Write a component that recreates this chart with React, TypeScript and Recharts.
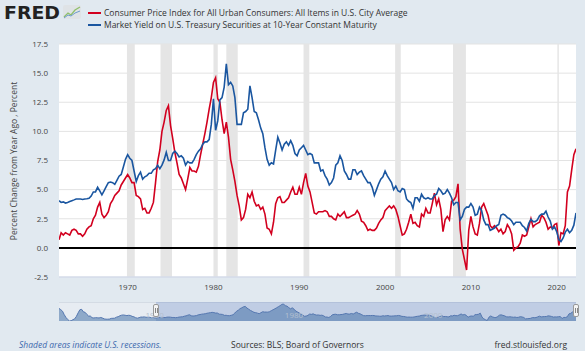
import React from 'react';
import { LineChart, Line, XAxis, YAxis, CartesianGrid, ReferenceArea, ReferenceLine, AreaChart, Area } from 'recharts';

// quarterly observations
const START_YEAR = 1962;
const NAV_START_YEAR = 1948;

// CPI, % change from year ago, 1948-1961 (only shown in the navigator)
const cpiEarly = [
  10.2, 9.0, 7.5, 4.0, 1.2, -0.8, -2.3, -2.0, -1.0, -0.2, 2.3, 5.8,
  8.9, 9.3, 6.8, 6.3, 4.3, 2.6, 2.6, 1.0, 0.7, 1.0, 0.9, 0.7,
  1.2, 0.6, -0.2, -0.5, -0.5, -0.4, 0.3, 0.4, 0.5, 1.5, 2.0, 2.9,
  3.5, 3.7, 3.4, 3.1, 3.4, 3.2, 2.3, 1.9, 1.0, 0.5, 1.0, 1.6,
  1.6, 1.8, 1.4, 1.4, 1.4, 1.0, 1.2, 0.7,
];

// CPI, % change from year ago, 1962 Q1 - 2022 Q2
const cpiYoY = [
  0.7, 1.3, 1.1, 1.3, 1.2, 1.1, 1.5, 1.6, 1.5, 1.2, 1.2, 1.0,
  1.2, 1.6, 1.8, 1.9, 2.5, 2.8, 3.5, 3.9, 2.9, 2.6, 2.8, 3.1,
  3.8, 4.1, 4.5, 4.7, 4.9, 5.4, 5.7, 6.0, 6.3, 6.0, 5.6, 5.6,
  4.5, 4.4, 4.2, 3.3, 3.4, 3.0, 3.0, 3.4, 3.9, 5.6, 7.4, 8.4,
  10.0, 10.8, 11.8, 12.2, 10.5, 9.4, 8.2, 7.3, 6.3, 6.0, 5.5, 5.0,
  5.9, 6.9, 6.6, 6.6, 6.5, 7.0, 8.0, 8.9, 9.8, 10.8, 11.9, 12.9,
  14.2, 14.6, 12.8, 12.5, 11.0, 9.8, 10.8, 9.5, 7.6, 6.7, 5.7, 4.5,
  3.6, 2.4, 2.6, 3.3, 4.6, 4.3, 4.8, 4.0, 3.6, 3.7, 3.3, 3.5,
  2.9, 1.7, 1.6, 1.2, 2.2, 3.8, 4.3, 4.4, 3.9, 3.9, 4.1, 4.3,
  4.8, 5.2, 4.6, 4.6, 5.2, 4.6, 5.6, 6.4, 5.3, 4.8, 3.9, 3.0,
  2.9, 3.1, 3.1, 3.1, 3.2, 3.1, 2.7, 2.7, 2.5, 2.4, 2.9, 2.7,
  2.9, 3.1, 2.6, 2.6, 2.7, 2.8, 2.9, 3.2, 2.9, 2.3, 2.2, 1.9,
  1.5, 1.6, 1.5, 1.5, 1.7, 2.1, 2.4, 2.6, 3.2, 3.4, 3.6, 3.4,
  3.6, 3.3, 2.7, 1.9, 1.1, 1.2, 1.6, 2.2, 2.9, 2.1, 2.2, 1.9,
  1.8, 2.9, 2.7, 3.4, 3.0, 3.0, 3.8, 4.7, 3.7, 4.2, 3.3, 1.4,
  2.4, 2.7, 2.4, 4.0, 4.1, 4.4, 5.5, 1.6, -0.1, -1.0, -1.9, 1.5,
  2.7, 1.8, 1.2, 1.1, 2.1, 3.5, 3.8, 3.3, 2.8, 1.9, 1.7, 1.9,
  1.7, 1.4, 1.6, 1.2, 1.4, 2.0, 1.7, 1.2, -0.2, 0.0, 0.1, 0.4,
  1.1, 1.0, 1.1, 1.8, 2.5, 1.8, 2.0, 2.1, 2.2, 2.8, 2.6, 2.2,
  1.6, 1.8, 1.7, 2.0, 2.1, 0.2, 1.3, 1.2, 1.9, 4.8, 5.3, 6.7,
  8.0, 8.5,
];

// 10-year Treasury constant maturity yield, percent, 1962 Q1 - 2022 Q2
const tenYearYield = [
  4.05, 3.9, 3.95, 3.85, 3.9, 3.98, 4.05, 4.12, 4.2, 4.2, 4.19, 4.15,
  4.2, 4.21, 4.25, 4.45, 4.8, 4.8, 5.2, 4.9, 4.55, 4.9, 5.25, 5.6,
  5.65, 5.6, 5.45, 5.8, 6.15, 6.3, 6.95, 7.6, 8.0, 7.7, 7.5, 6.6,
  5.7, 6.2, 6.5, 5.9, 6.1, 6.2, 6.4, 6.4, 6.7, 6.8, 7.1, 6.8,
  7.1, 7.55, 8.2, 7.5, 7.5, 8.1, 8.3, 8.1, 7.8, 7.9, 7.7, 7.1,
  7.4, 7.3, 7.3, 7.6, 8.0, 8.3, 8.5, 8.9, 9.1, 9.1, 9.3, 10.6,
  12.8, 10.1, 10.9, 12.7, 12.9, 13.8, 15.8, 14.0, 14.2, 13.9, 12.9, 10.6,
  10.6, 10.6, 11.6, 11.7, 11.9, 13.9, 12.9, 11.7, 11.6, 11.0, 10.3, 9.8,
  8.6, 7.6, 7.1, 7.3, 7.2, 8.4, 9.5, 9.0, 8.4, 8.9, 9.1, 8.8,
  9.2, 8.8, 8.1, 7.9, 8.4, 8.6, 8.8, 8.4, 8.0, 8.1, 8.0, 7.3,
  7.3, 7.3, 6.6, 6.7, 6.2, 5.9, 5.4, 5.6, 6.0, 7.1, 7.3, 7.9,
  7.5, 6.6, 6.3, 5.9, 5.9, 6.7, 6.7, 6.3, 6.5, 6.6, 6.2, 5.9,
  5.6, 5.6, 5.2, 4.5, 5.0, 5.5, 5.9, 6.1, 6.6, 6.2, 5.9, 5.6,
  5.0, 5.3, 4.9, 4.8, 5.1, 5.0, 4.2, 4.0, 3.9, 3.4, 4.3, 4.3,
  4.0, 4.6, 4.3, 4.2, 4.3, 4.2, 4.2, 4.5, 4.6, 5.1, 4.9, 4.6,
  4.7, 5.0, 4.7, 4.3, 3.7, 3.9, 3.9, 2.4, 2.7, 3.3, 3.5, 3.5,
  3.8, 3.5, 2.8, 2.9, 3.5, 3.2, 2.4, 2.0, 2.0, 1.5, 1.6, 1.7,
  1.9, 2.0, 2.8, 2.9, 2.8, 2.6, 2.5, 2.3, 2.0, 2.2, 2.2, 2.2,
  1.9, 1.75, 1.45, 2.1, 2.45, 2.25, 2.25, 2.4, 2.75, 2.9, 2.9, 3.15,
  2.65, 2.3, 1.6, 1.8, 1.4, 0.7, 0.55, 0.85, 1.35, 1.6, 1.3, 1.5,
  1.95, 3.0,
];

// NBER recessions, in decimal years
const recessions = [
  { start: 1969.92, end: 1970.83 },
  { start: 1973.83, end: 1975.17 },
  { start: 1980.0, end: 1980.5 },
  { start: 1981.5, end: 1982.83 },
  { start: 1990.5, end: 1991.17 },
  { start: 2001.17, end: 2001.83 },
  { start: 2007.92, end: 2009.42 },
  { start: 2020.08, end: 2020.25 },
];

const yTicks = [-2.5, 0, 2.5, 5, 7.5, 10, 12.5, 15, 17.5];
const xTicks = [1970, 1980, 1990, 2000, 2010, 2020];
const navTicks = [1960, 1980, 2000];

const seriesNames = [
  'Consumer Price Index for All Urban Consumers: All Items in U.S. City Average',
  'Market Yield on U.S. Treasury Securities at 10-Year Constant Maturity',
];

const RED = '#d2001f';
const BLUE = '#1a56a0';
const FONT = '"Open Sans", sans-serif';

const mainData = cpiYoY.map((v, i) => ({
  date: START_YEAR + i * 0.25,
  cpi: v,
  gs10: tenYearYield[i],
}));

const navData = [...cpiEarly, ...cpiYoY].map((v, i) => ({
  date: NAV_START_YEAR + i * 0.25,
  cpi: v,
}));

const END_DATE = mainData[mainData.length - 1].date;

const NavTick = ({ x, payload }: any) => (
  <text x={x + 3} y={16} fontSize={8} fill="#b4c0d0" fontFamily={FONT}>
    {payload.value}
  </text>
);

const Handle = ({ left }: { left: number }) => (
  <div
    style={{
      position: 'absolute',
      left: left - 3,
      top: 304,
      width: 6,
      height: 13,
      background: '#f4f4f4',
      border: '1px solid #999',
      borderRadius: 2,
      boxSizing: 'border-box',
    }}
  >
    <div style={{ position: 'absolute', left: 1, top: 3, width: 1, height: 5, background: '#888' }} />
    <div style={{ position: 'absolute', left: 3, top: 3, width: 1, height: 5, background: '#888' }} />
  </div>
);

const App: React.FC = () => {
  return (
    <div
      style={{
        position: 'absolute',
        left: 0,
        top: 0,
        width: 585,
        height: 351,
        background: '#e1e9f0',
        fontFamily: FONT,
        overflow: 'hidden',
      }}
    >
      {/* header: logo + legend */}
      <svg style={{ position: 'absolute', left: 0, top: 0 }} width={90} height={24}>
        <text x={4} y={19} fontSize={18} fontWeight={800} fill="#222" fontFamily="'DejaVu Sans', sans-serif"
          textLength={56} lengthAdjust="spacingAndGlyphs">
          FRED
        </text>
        <rect x={63} y={5} width={18} height={14} rx={2} fill="#dfe3e6" />
        <polyline points="64,17 68,13 71,15 75,10 80,7" fill="none" stroke="#8fbf6a" strokeWidth={1.3} />
        <polyline points="64,18 68,15 71,16 75,13 80,11" fill="none" stroke="#6d9ccc" strokeWidth={1} />
      </svg>
      {seriesNames.map((name, i) => (
        <div key={name} style={{ position: 'absolute', left: 88, top: 7 + i * 12, height: 12, display: 'flex', alignItems: 'center' }}>
          <div style={{ width: 13, height: 2, background: i === 0 ? RED : BLUE, marginRight: 3 }} />
          <span style={{ fontSize: 8.5, color: '#333', whiteSpace: 'nowrap', lineHeight: '12px' }}>{name}</span>
        </div>
      ))}

      {/* main chart */}
      <div style={{ position: 'absolute', left: 0, top: 0 }}>
        <LineChart width={585} height={300} data={mainData} margin={{ top: 44, right: 9, bottom: 0, left: 0 }}>
          <CartesianGrid vertical={false} stroke="#e3e3e3" fill="#ffffff" />
          <XAxis
            dataKey="date"
            type="number"
            domain={[START_YEAR, END_DATE]}
            ticks={xTicks}
            allowDataOverflow
            height={23}
            tickLine={false}
            tickMargin={1}
            axisLine={{ stroke: '#ccd6eb' }}
            tick={{ fontSize: 8, fill: '#444', fontFamily: FONT }}
          />
          <YAxis
            type="number"
            domain={[-2.5, 17.5]}
            ticks={yTicks}
            width={59}
            tickLine={false}
            axisLine={false}
            tickMargin={5}
            tickFormatter={(v: number) => v.toFixed(1)}
            tick={{ fontSize: 8, fill: '#444', fontFamily: FONT }}
            label={{
              content: () => (
                <text x={13} y={161} transform="rotate(-90 13 161)" textAnchor="middle" dominantBaseline="central"
                  fontSize={8.5} fill="#444" fontFamily={FONT}>
                  Percent Change from Year Ago , Percent
                </text>
              ),
            }}
          />
          {recessions.map((r) => (
            <ReferenceArea key={r.start} x1={r.start} x2={r.end} y1={-2.5} y2={17.5} fill="#e5e5e5" fillOpacity={1} stroke="none" ifOverflow="hidden" />
          ))}
          <ReferenceLine y={0} stroke="#000" strokeWidth={2} />
          <Line type="linear" dataKey="cpi" stroke={RED} strokeWidth={1.6} dot={false} isAnimationActive={false} />
          <Line type="linear" dataKey="gs10" stroke={BLUE} strokeWidth={1.6} dot={false} isAnimationActive={false} />
        </LineChart>
      </div>

      {/* navigator */}
      <div style={{ position: 'absolute', left: 59, top: 302, width: 517, height: 19, background: '#e7ecf2', borderTop: '1px solid #d4dbe4', boxSizing: 'border-box' }} />
      <div style={{ position: 'absolute', left: 156, top: 302, width: 420, height: 19, background: 'rgba(102,133,194,0.3)' }} />
      <div style={{ position: 'absolute', left: 59, top: 302 }}>
        <AreaChart width={517} height={19} data={navData} margin={{ top: 2, right: 0, bottom: 0, left: 0 }}>
          <XAxis
            dataKey="date"
            type="number"
            domain={[NAV_START_YEAR, END_DATE]}
            ticks={navTicks}
            mirror
            axisLine={false}
            tickLine={false}
            tick={<NavTick />}
          />
          <YAxis hide domain={['dataMin', 'dataMax']} />
          <Area
            type="linear"
            dataKey="cpi"
            baseValue="dataMin"
            stroke="#5577b0"
            strokeWidth={1}
            fill="rgb(69,114,167)"
            fillOpacity={0.55}
            isAnimationActive={false}
          />
        </AreaChart>
      </div>
      <Handle left={156} />
      <Handle left={576} />

      {/* footer */}
      <div style={{ position: 'absolute', left: 19, top: 339, fontSize: 8.5, lineHeight: '12px', fontStyle: 'italic', color: '#3c68ad' }}>
        Shaded areas indicate U.S. recessions.
      </div>
      <div style={{ position: 'absolute', left: 231, top: 339, fontSize: 8.5, lineHeight: '12px', color: '#333' }}>
        Sources: BLS; Board of Governors
      </div>
      <div style={{ position: 'absolute', right: 18, top: 339, fontSize: 8.5, lineHeight: '12px', color: '#333' }}>
        fred.stlouisfed.org
      </div>
    </div>
  );
};

export default App;
